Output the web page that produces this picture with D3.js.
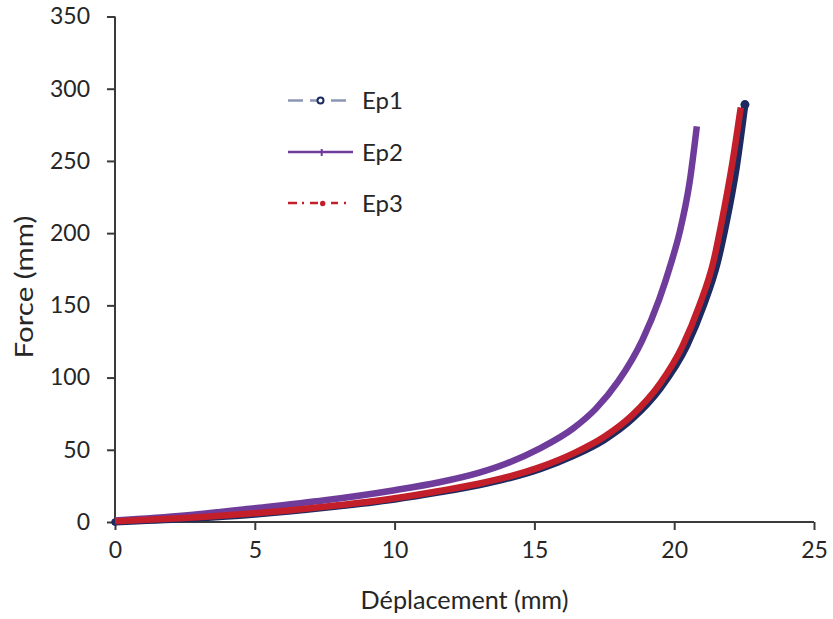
<!DOCTYPE html>
<html><head><meta charset="utf-8">
<script src="https://cdn.jsdelivr.net/npm/d3@7"></script>
<style>
html,body{margin:0;padding:0;background:#fff;}
text{font-family:Lato,"Open Sans",sans-serif;fill:#262626;}
</style></head>
<body><svg id="chart" width="833" height="619"></svg>
<script>
const xTicks = [0, 5, 10, 15, 20, 25];
const yTicks = [0, 50, 100, 150, 200, 250, 300, 350];
const seriesNames = ["Ep1", "Ep2", "Ep3"];

const ep1X = [0, 2.5, 5, 7.5, 10, 11.6, 13, 14, 15.2, 16.4, 17.5, 18.5, 19.5, 20.45, 21.05, 21.55, 21.87, 22.22, 22.53];
const ep1F = [0, 2.2, 5.4, 10, 15.8, 20.7, 25.6, 30, 36.8, 46, 57, 71.5, 92.5, 122, 150, 180, 208, 245, 289];

const ep2X = [0, 2.5, 5, 7.5, 10, 11.6, 13, 14, 15.2, 16.4, 17.2, 18, 18.86, 19.46, 19.9, 20.2, 20.55, 20.81];
const ep2F = [1, 4.5, 9.5, 15, 22, 27.5, 34, 40.5, 51, 65, 78.5, 97.5, 126, 154, 180, 201, 235, 274];

const ep3X = [0, 2.5, 5, 7.5, 10, 11.6, 13, 14, 15.2, 16.4, 17.5, 18.5, 19.5, 20.3, 20.9, 21.4, 21.7, 22.05, 22.38];
const ep3F = [0.5, 2.8, 6, 10.6, 16.5, 21.5, 26.5, 31, 38, 47.5, 59, 74, 96, 122, 150, 180, 208, 245, 287];

const svg = d3.select("#chart");
const W = 833, H = 619;
const m = {left:115, right:W-814, top:16.5, bottom:H-522};
const x = d3.scaleLinear().domain([0,25]).range([m.left, W-m.right]);
const y = d3.scaleLinear().domain([0,350]).range([H-m.bottom, m.top]);

const axisColor = "#3a3a3a";
const tickFont = 23;

// X axis
const gx = svg.append("g").attr("transform", `translate(0,${y(0)})`)
  .call(d3.axisBottom(x).tickValues(xTicks).tickSize(8).tickPadding(12).tickFormat(d3.format("d")));
gx.select(".domain").attr("stroke", axisColor).attr("stroke-width", 2).attr("d", `M${x(0)},0H${x(25)}`);
gx.selectAll(".tick line").attr("stroke", axisColor).attr("stroke-width", 2);
gx.selectAll(".tick text").attr("font-size", tickFont).attr("fill","#262626").attr("font-family","Lato,sans-serif");

// Y axis
const gy = svg.append("g").attr("transform", `translate(${x(0)},0)`)
  .call(d3.axisLeft(y).tickValues(yTicks).tickSize(8).tickPadding(17).tickFormat(d3.format("d")));
gy.select(".domain").attr("stroke", axisColor).attr("stroke-width", 2).attr("d", `M0,${y(0)}V${y(350)}`);
gy.selectAll(".tick line").attr("stroke", axisColor).attr("stroke-width", 2);
gy.selectAll(".tick text").attr("font-size", tickFont).attr("fill","#262626").attr("font-family","Lato,sans-serif");

// Axis titles
const xt = svg.append("text").attr("x", (x(0)+x(25))/2).attr("y", 609).attr("text-anchor","middle")
  .attr("font-size", 23).text("Déplacement (mm)");
const fs = 23 * 208 / xt.node().getComputedTextLength();
xt.attr("font-size", fs);
svg.append("text").attr("transform", `translate(33,287) scale(1,1.17) rotate(-90)`)
  .attr("text-anchor","middle").attr("font-size", fs).text("Force (mm)");

const line = d3.line().x(d=>x(d[0])).y(d=>y(d[1])).curve(d3.curveMonotoneX);
const zip = (a,b)=>a.map((v,i)=>[v,b[i]]);

const colors = {Ep1:"#1c2a60", Ep2:"#6f3c9c", Ep3:"#c21f2a"};

const data1 = zip(ep1X, ep1F), data2 = zip(ep2X, ep2F), data3 = zip(ep3X, ep3F);

svg.append("path").datum(data1).attr("d", line).attr("fill","none")
  .attr("stroke", colors.Ep1).attr("stroke-width", 7).attr("stroke-linecap","round");
svg.append("circle").attr("cx", x(ep1X[ep1X.length-1])).attr("cy", y(ep1F[ep1F.length-1])).attr("r",4.5).attr("fill", colors.Ep1);
svg.append("circle").attr("cx", x(ep1X[0])).attr("cy", y(ep1F[0])).attr("r",3.5).attr("fill", colors.Ep1);

svg.append("path").datum(data2).attr("d", line).attr("fill","none")
  .attr("stroke", colors.Ep2).attr("stroke-width", 6.5);
svg.append("path").datum(data3).attr("d", line).attr("fill","none")
  .attr("stroke", colors.Ep3).attr("stroke-width", 6.5);

// Legend
const legY = [100.5, 152, 203];
const lg = svg.append("g");
// Ep1
lg.append("line").attr("x1",288).attr("x2",346).attr("y1",legY[0]).attr("y2",legY[0])
  .attr("stroke","#8a96b4").attr("stroke-width",2.5).attr("stroke-dasharray","15,7,9,12,15");
lg.append("circle").attr("cx",320.5).attr("cy",legY[0]).attr("r",3).attr("fill","#fff")
  .attr("stroke",colors.Ep1).attr("stroke-width",2);
// Ep2
lg.append("line").attr("x1",288).attr("x2",353).attr("y1",legY[1]).attr("y2",legY[1])
  .attr("stroke",colors.Ep2).attr("stroke-width",2.5);
lg.append("line").attr("x1",321.7).attr("x2",321.7).attr("y1",legY[1]-3).attr("y2",legY[1]+4)
  .attr("stroke",colors.Ep2).attr("stroke-width",2);
// Ep3
lg.append("line").attr("x1",288).attr("x2",346).attr("y1",legY[2]).attr("y2",legY[2])
  .attr("stroke",colors.Ep3).attr("stroke-width",2.5).attr("stroke-dasharray","9,5,2,6,8,13,7,6,2");
lg.append("circle").attr("cx",322.7).attr("cy",legY[2]+0.5).attr("r",2.7).attr("fill",colors.Ep3);

seriesNames.forEach((n,i)=>{
  lg.append("text").attr("x",362).attr("y",legY[i]+8.5).attr("font-size",24).text(n);
});
</script></body></html>
